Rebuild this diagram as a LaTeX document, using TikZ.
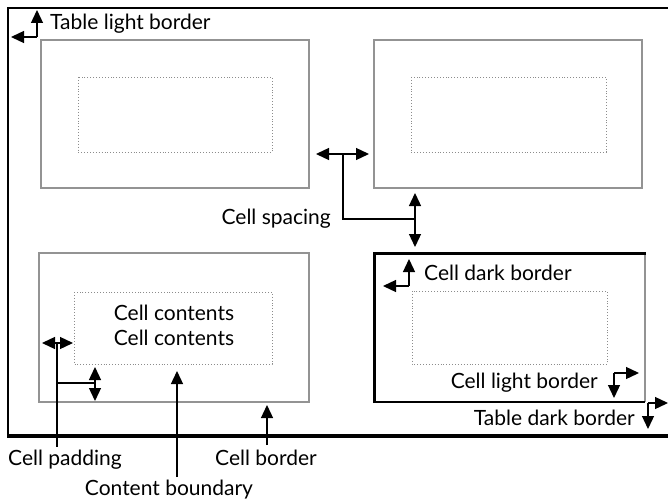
\documentclass[tikz,border=0pt]{standalone}
\usepackage{fontspec}
\setmainfont{Lato}
\usetikzlibrary{arrows.meta}

\tikzset{
  lbl/.style={font=\fontsize{21}{25}\selectfont, inner sep=0pt},
  arr/.style={line width=1.3pt, -{Triangle[length=13pt,width=12pt]}},
  dbl/.style={line width=1.3pt, {Triangle[length=13pt,width=12pt]}-{Triangle[length=13pt,width=12pt]}},
  lead/.style={line width=1.3pt},
  lightcell/.style={draw=gray!85, line width=1.5pt},
  content/.style={draw=gray!90, dotted, line width=0.9pt}
}

\begin{document}
\begin{tikzpicture}[x=1pt,y=-1pt]
\useasboundingbox (0,0) rectangle (668,500);
% table borders
\draw[line width=2pt] (8,436) -- (8,8) -- (668,8);
\draw[line width=3.5pt] (7,436) -- (668,436);
% cells
\draw[lightcell] (41,40) rectangle (309,188);
\draw[content] (78,77) rectangle (272,152);
\draw[lightcell] (374,40) rectangle (642,188);
\draw[content] (411,77) rectangle (606,152);
\draw[lightcell] (39,253) rectangle (309,402);
\draw[content] (74,292) rectangle (272,364);
\draw[draw=gray!85, line width=1.5pt] (645,253) -- (645,402);
\draw[line width=1.8pt] (374,402) -- (645,402);
\draw[line width=3pt] (374,403) -- (374,253) -- (646,253);
\draw[content] (412,291) rectangle (607,364);
% contents
\node[lbl, anchor=base] (txt1) at (174,320) {Cell contents};
\node[lbl, anchor=base] (txt2) at (174,345) {Cell contents};
% table light border
\coordinate (TLe) at (37,37); \coordinate (TLu) at (37,10); \coordinate (TLl) at (11,37);
\draw[arr] (TLe) -- (TLu); \draw[arr] (TLe) -- (TLl);
\node[lbl, anchor=base west] (tlb) at (50,30) {Table light border};
% cell spacing
\coordinate (CSa) at (316,154); \coordinate (CSb) at (369,154); \coordinate (CSm) at (343,154);
\coordinate (CSd) at (343,219); \coordinate (CSr) at (415,219);
\coordinate (CSu) at (415,193); \coordinate (CSl) at (415,247);
\draw[dbl] (CSa) -- (CSb);
\draw[lead] (CSm) -- (CSd) -- (CSr);
\draw[dbl] (CSu) -- (CSl);
\node[lbl, anchor=base east] (csp) at (331,224) {Cell spacing};
% cell dark border
\coordinate (CDe) at (409,286); \coordinate (CDu) at (409,259); \coordinate (CDl) at (383,286);
\draw[arr] (CDe) -- (CDu); \draw[arr] (CDe) -- (CDl);
\node[lbl, anchor=base west] (cdb) at (424,280) {Cell dark border};
% cell light border
\coordinate (CLe) at (614,373); \coordinate (CLd) at (614,398); \coordinate (CLr) at (639,373);
\draw[arr] (CLe) -- (CLd); \draw[arr] (CLe) -- (CLr);
\node[lbl, anchor=base east] (clb) at (598,388) {Cell light border};
% table dark border
\coordinate (TDe) at (648,403); \coordinate (TDd) at (648,429); \coordinate (TDr) at (668,403);
\draw[arr] (TDe) -- (TDd); \draw[arr] (TDe) -- (TDr);
\node[lbl, anchor=base east] (tdb) at (635,425) {Table dark border};
% cell padding
\coordinate (CPa) at (42,343); \coordinate (CPb) at (73,343); \coordinate (CPm) at (57,343);
\coordinate (CPd) at (57,447); \coordinate (CPj) at (57,383); \coordinate (CPr) at (95,383);
\coordinate (CPu) at (95,367); \coordinate (CPl) at (95,401);
\draw[dbl] (CPa) -- (CPb);
\draw[lead] (CPm) -- (CPd);
\draw[lead] (CPj) -- (CPr);
\draw[dbl] (CPu) -- (CPl);
\node[lbl, anchor=base west] (cpd) at (8,465) {Cell padding};
% content boundary
\coordinate (CBs) at (177,477); \coordinate (CBt) at (177,371);
\draw[arr] (CBs) -- (CBt);
\node[lbl, anchor=base] (cbd) at (169,495) {Content boundary};
% cell border
\coordinate (CEs) at (267,445); \coordinate (CEt) at (267,405);
\draw[arr] (CEs) -- (CEt);
\node[lbl, anchor=base east] (ceb) at (317,465) {Cell border};
\end{tikzpicture}
\end{document}
